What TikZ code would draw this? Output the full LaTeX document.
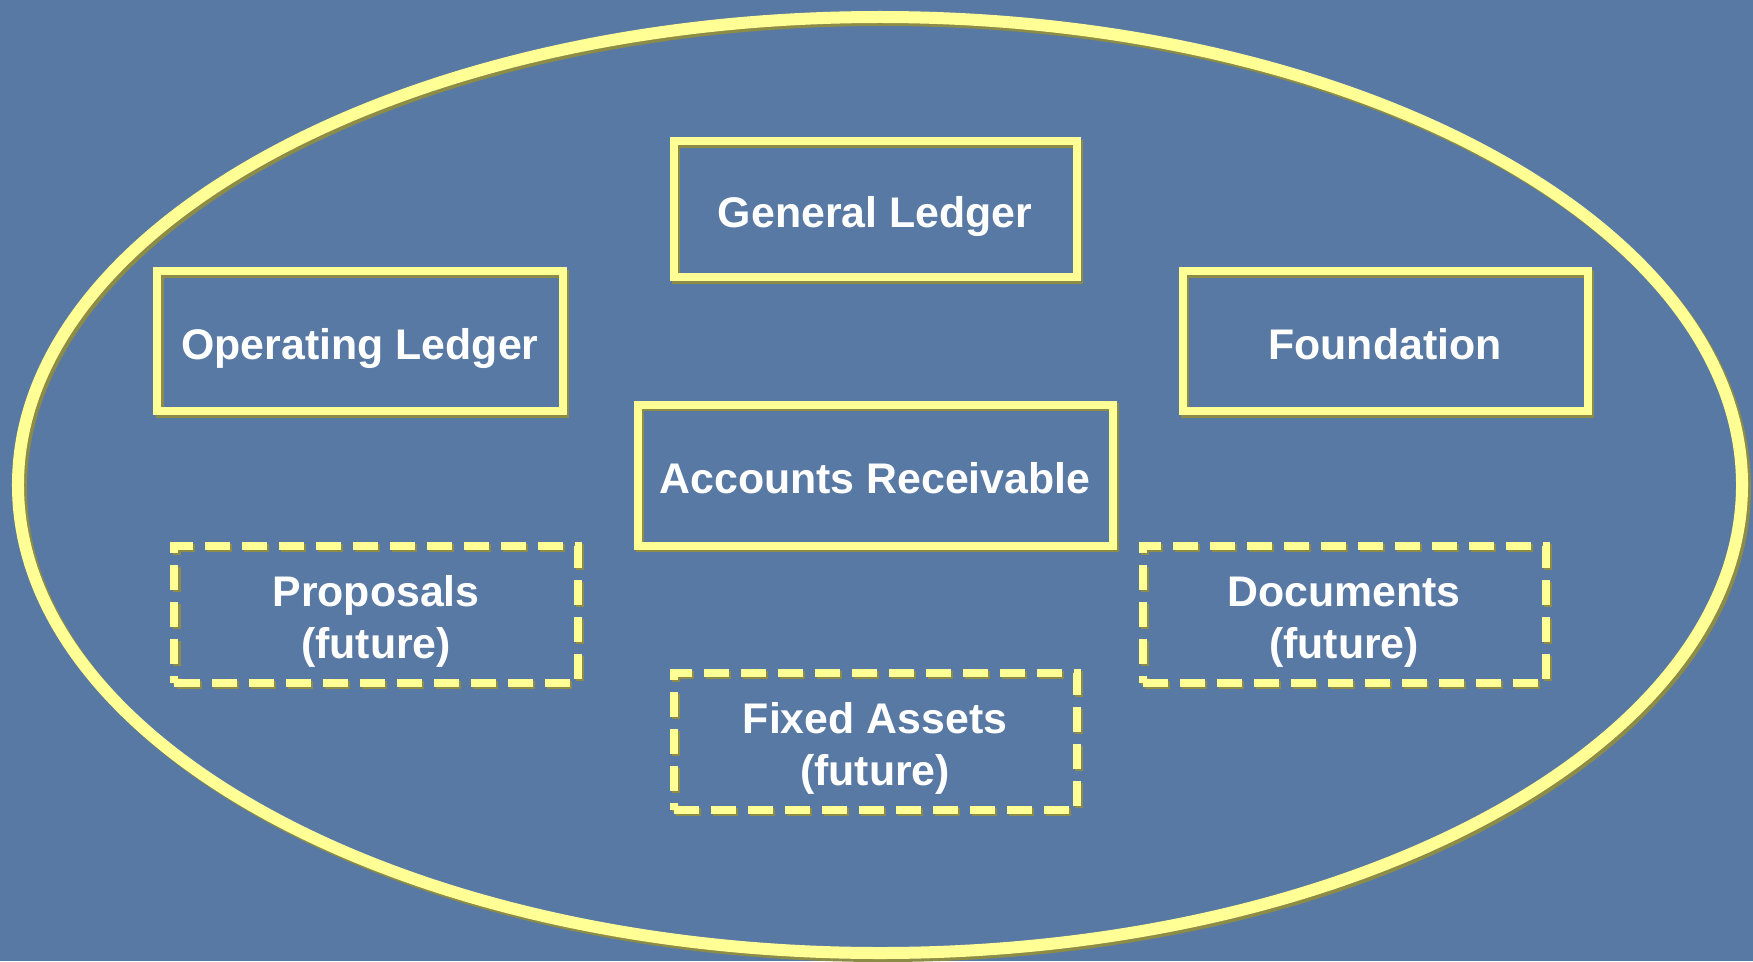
\documentclass[tikz,border=0pt]{standalone}
\usepackage{fontspec}
\setmainfont{Liberation Sans}
\usetikzlibrary{shapes.geometric}
\definecolor{bgc}{RGB}{88,121,163}
\definecolor{yel}{RGB}{255,255,150}
\definecolor{shc}{RGB}{140,140,70}
\tikzset{
  sysbox/.style={rectangle, draw=yel, line width=8bp, minimum width=403bp, minimum height=136bp,
    inner sep=0pt, align=center, text=white, font=\bfseries\fontsize{43}{52}\selectfont,
    text height=45bp, text depth=9bp,
    preaction={draw=shc, line width=8bp, transform canvas={xshift=2.5bp,yshift=-2.5bp}}},
  futbox/.style={sysbox, text height=97bp, text depth=9bp, dash pattern=on 25bp off 12bp,
    preaction={draw=shc, line width=8bp, dash pattern=on 25bp off 12bp, transform canvas={xshift=2.5bp,yshift=-2.5bp}}},
}
\begin{document}
\begin{tikzpicture}[x=1bp,y=-1bp]
\fill[bgc] (0,0) rectangle (1753,961);
\useasboundingbox (0,0) rectangle (1753,961);
\node[ellipse, draw=yel, line width=12bp, minimum width=1724bp, minimum height=936bp, inner sep=0pt,
  preaction={draw=shc, line width=12bp, transform canvas={xshift=3bp,yshift=-3bp}}] (ell) at (880,485) {};
\node[sysbox] (gl) at (875,209) {General Ledger};
\node[sysbox, minimum width=405bp, minimum height=140bp] (ol) at (360,341) {Operating Ledger};
\node[sysbox, minimum width=405bp, minimum height=140bp] (fd) at (1385,341) {Foundation};
\node[sysbox, minimum width=475bp, minimum height=141bp] (ar) at (875,475) {Accounts Receivable};
\node[futbox, minimum width=403bp, minimum height=137bp] (pr) at (376,614) {Proposals\\(future)};
\node[futbox, minimum width=403bp, minimum height=137bp] (dc) at (1344,614) {Documents\\(future)};
\node[futbox, minimum width=403bp, minimum height=137bp] (fa) at (875,741) {Fixed Assets\\(future)};
\end{tikzpicture}
\end{document}
